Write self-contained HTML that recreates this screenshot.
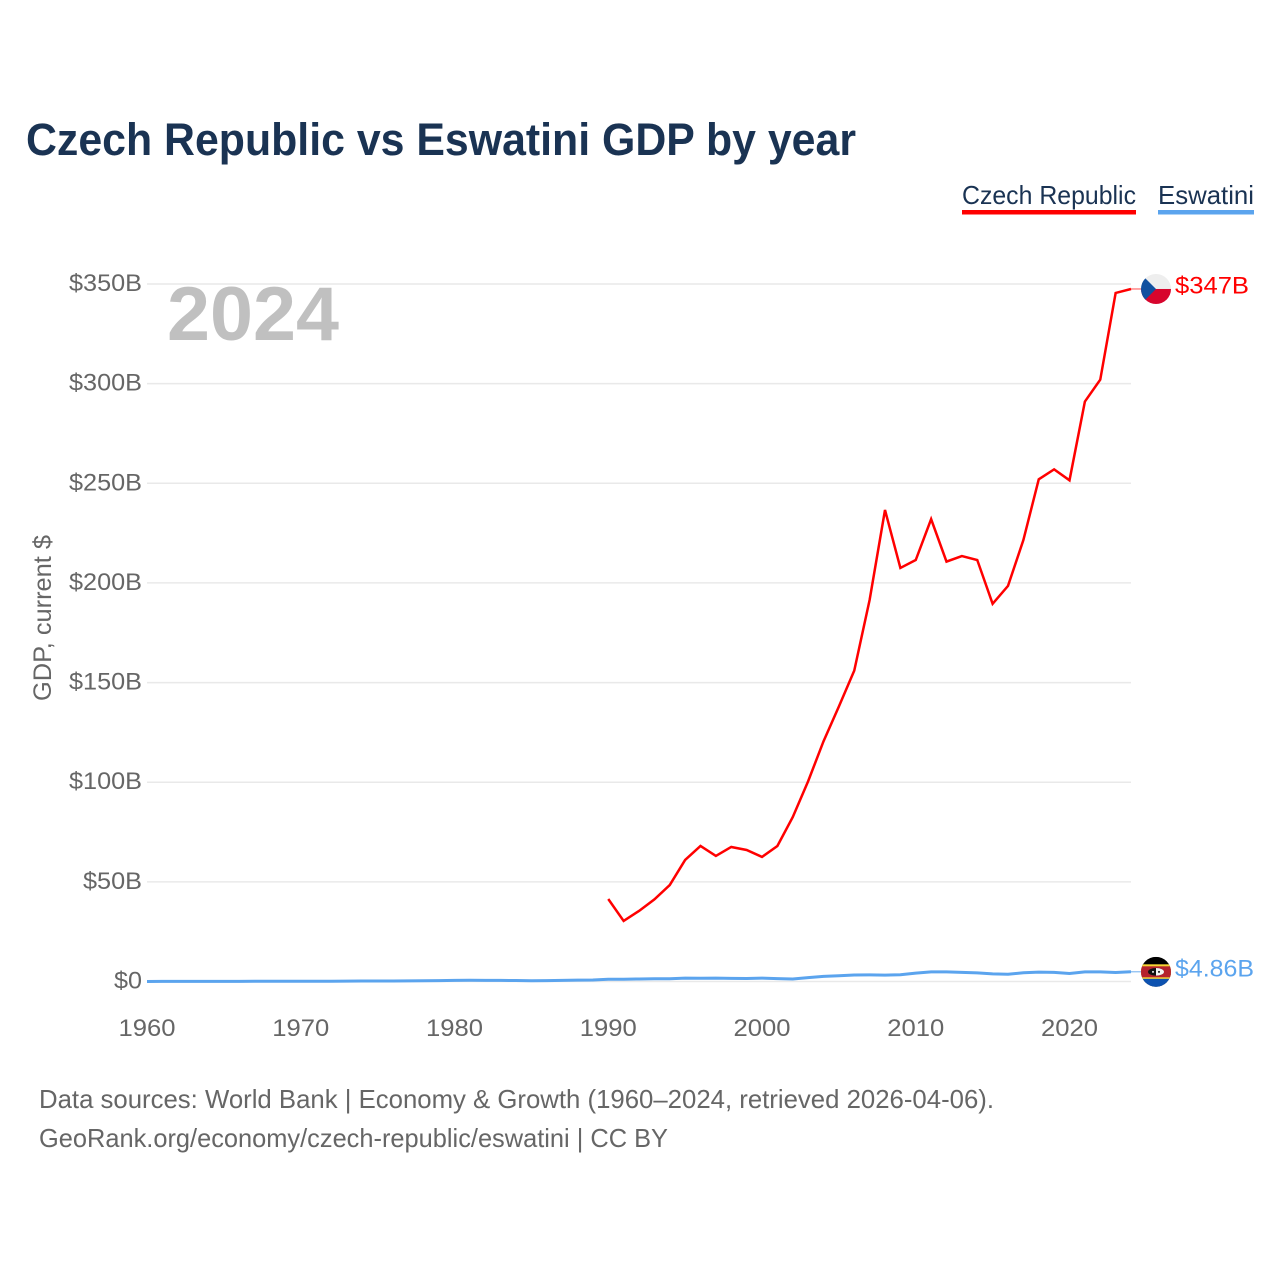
<!DOCTYPE html>
<html lang="en">
<head>
<meta charset="utf-8">
<title>Czech Republic vs Eswatini GDP by year</title>
<style>
html,body{margin:0;padding:0;background:#fff;width:1280px;height:1280px;overflow:hidden}
svg{display:block}
text{font-family:"Liberation Sans",sans-serif}
</style>
</head>
<body>
<svg id="chart" xmlns="http://www.w3.org/2000/svg" width="1280" height="1280" viewBox="0 0 1280 1280">
  <defs>
    <clipPath id="cz-clip"><circle cx="0" cy="0" r="15"/></clipPath>
    <clipPath id="sz-clip"><circle cx="0" cy="0" r="15"/></clipPath>
  </defs>
  <rect x="0" y="0" width="1280" height="1280" fill="#fff"/>
  <text x="26" y="155" font-size="45" font-weight="700" fill="#1a3353" textLength="830" lengthAdjust="spacingAndGlyphs">Czech Republic vs Eswatini GDP by year</text>

  <g>
    <text x="962" y="204" font-size="26" fill="#1a3353" textLength="174" lengthAdjust="spacingAndGlyphs">Czech Republic</text>
    <rect x="962" y="210" width="174" height="4.5" fill="#ff0000"/>
  </g>
  <g>
    <text x="1158" y="204" font-size="26" fill="#1a3353" textLength="96" lengthAdjust="spacingAndGlyphs">Eswatini</text>
    <rect x="1158" y="210" width="96" height="4.5" fill="#5ba4ee"/>
  </g>

  <g id="grid"></g>
  <g id="y-ticks"></g>
  <g id="x-ticks"></g>

  <text x="167" y="340" font-size="76" font-weight="700" fill="#c0c0c0" textLength="172" lengthAdjust="spacingAndGlyphs">2024</text>
  <text transform="translate(51,701) rotate(-90)" font-size="25" fill="#666" textLength="166" lengthAdjust="spacingAndGlyphs">GDP, current $</text>

  <g id="series"></g>

  <g id="flag-cz">
    <g clip-path="url(#cz-clip)">
      <rect x="-15" y="-15" width="30" height="15" fill="#eeeeee"/>
      <rect x="-15" y="0" width="30" height="15" fill="#d7052d"/>
      <path d="M-15,-15 L0,0 L-15,15 Z" fill="#11509f"/>
    </g>
  </g>
  <g id="flag-sz">
    <g clip-path="url(#sz-clip)">
      <rect x="-15" y="-15" width="30" height="30" fill="#000"/>
      <rect x="-15" y="-7.5" width="30" height="15" fill="#f6d433"/>
      <rect x="-15" y="-5.5" width="30" height="11" fill="#b5222d"/>
      <rect x="-15" y="7" width="30" height="8" fill="#0d52b0"/>
      <ellipse cx="0" cy="0" rx="8" ry="3.8" fill="#111"/>
      <path d="M0,-3.8 A8,3.8 0 0 1 0,3.8 Z" fill="#f4f4f4"/>
      <circle cx="-3" cy="0" r="1" fill="#eee"/>
      <circle cx="3" cy="0" r="1" fill="#111"/>
    </g>
  </g>
  <g id="end-labels"></g>

  <text x="39" y="1108" font-size="26" fill="#666" textLength="955" lengthAdjust="spacingAndGlyphs">Data sources: World Bank | Economy &amp; Growth (1960–2024, retrieved 2026-04-06).</text>
  <text x="39" y="1147" font-size="26" fill="#666" textLength="629" lengthAdjust="spacingAndGlyphs">GeoRank.org/economy/czech-republic/eswatini | CC BY</text>
</svg>
<script>
const yTickValues = [0, 50, 100, 150, 200, 250, 300, 350];
const yTickLabels = ["$0", "$50B", "$100B", "$150B", "$200B", "$250B", "$300B", "$350B"];
const yTickWidths = [28, 59, 73, 73, 73, 73, 73, 73];
const xTickYears = [1960, 1970, 1980, 1990, 2000, 2010, 2020];
const czechYears = [1990,1991,1992,1993,1994,1995,1996,1997,1998,1999,2000,2001,2002,2003,2004,2005,2006,2007,2008,2009,2010,2011,2012,2013,2014,2015,2016,2017,2018,2019,2020,2021,2022,2023,2024];
const czechGdp = [41.4,30.4,35.4,41.2,48.4,61,68,63,67.5,66,62.5,68,82.5,100.5,120.5,138,156,191.5,236.6,207.5,211.5,232,210.7,213.5,211.5,189.5,198.5,221.5,252,257,251.5,291,302,345.5,347.5];
const eswatiniYears = [1960,1961,1962,1963,1964,1965,1966,1967,1968,1969,1970,1971,1972,1973,1974,1975,1976,1977,1978,1979,1980,1981,1982,1983,1984,1985,1986,1987,1988,1989,1990,1991,1992,1993,1994,1995,1996,1997,1998,1999,2000,2001,2002,2003,2004,2005,2006,2007,2008,2009,2010,2011,2012,2013,2014,2015,2016,2017,2018,2019,2020,2021,2022,2023,2024];
const eswatiniGdp = [0.03,0.04,0.04,0.06,0.07,0.08,0.09,0.1,0.1,0.1,0.11,0.13,0.15,0.2,0.25,0.28,0.28,0.32,0.35,0.42,0.54,0.6,0.55,0.55,0.5,0.36,0.46,0.55,0.7,0.75,1.1,1.15,1.25,1.35,1.4,1.7,1.6,1.7,1.55,1.5,1.7,1.45,1.25,1.95,2.6,2.9,3.25,3.3,3.2,3.4,4.2,4.8,4.85,4.6,4.35,3.8,3.65,4.4,4.7,4.6,4.0,4.8,4.8,4.5,4.86];
const endLabels = ["$347B", "$4.86B"];

const SVG_NS = "http://www.w3.org/2000/svg";
function xScale(year) { return 147 + (year - 1960) * (984 / 64); }
function yScale(value) { return 981.5 - value * (697.5 / 350); }
function make(tag, attrs, text) {
  const el = document.createElementNS(SVG_NS, tag);
  for (const k in attrs) el.setAttribute(k, attrs[k]);
  if (text !== undefined) el.textContent = text;
  return el;
}
const gridG = document.getElementById("grid");
const yG = document.getElementById("y-ticks");
const xG = document.getElementById("x-ticks");
const seriesG = document.getElementById("series");
const labelsG = document.getElementById("end-labels");

yTickValues.forEach(function (v, i) {
  const line = make("line", { x1: 147, x2: 1131, y1: yScale(v), y2: yScale(v), stroke: "#e9e9e9", "stroke-width": 1.5 });
  
  
  gridG.appendChild(line);
  const label = make("text", { x: 142, y: yScale(v) + 7, "font-size": 24.5, fill: "#666", "text-anchor": "end", textLength: yTickWidths[i], lengthAdjust: "spacingAndGlyphs" }, yTickLabels[i]);
  
  
  yG.appendChild(label);
});

xTickYears.forEach(function (y) {
  const label = make("text", { x: xScale(y), y: 1036, "font-size": 24.5, fill: "#666", "text-anchor": "middle", textLength: 57, lengthAdjust: "spacingAndGlyphs" }, String(y));
  
  
  xG.appendChild(label);
});

function drawSeries(years, values, color, width) {
  const pts = years.map(function (y, i) { return xScale(y).toFixed(2) + "," + yScale(values[i]).toFixed(2); }).join(" ");
  return make("polyline", { points: pts, fill: "none", stroke: color, "stroke-width": width, "stroke-linejoin": "miter" });
}
const eswatiniLine = drawSeries(eswatiniYears, eswatiniGdp, "#5ba4ee", 3);


seriesG.appendChild(eswatiniLine);
const czechLine = drawSeries(czechYears, czechGdp, "#ff0000", 2.5);


seriesG.appendChild(czechLine);

const czLastY = yScale(czechGdp[czechGdp.length - 1]);
const szLastY = yScale(eswatiniGdp[eswatiniGdp.length - 1]);
const xEnd = xScale(czechYears[czechYears.length - 1]);

const czConn = make("line", { x1: xEnd, x2: 1141, y1: czLastY, y2: czLastY, stroke: "#ff0000", "stroke-width": 1, opacity: 0.7 });


seriesG.appendChild(czConn);
const szConn = make("line", { x1: xEnd, x2: 1141, y1: szLastY, y2: szLastY, stroke: "#5ba4ee", "stroke-width": 1, opacity: 0.9 });


seriesG.appendChild(szConn);

document.getElementById("flag-cz").setAttribute("transform", "translate(1156," + czLastY + ")");
document.getElementById("flag-sz").setAttribute("transform", "translate(1156," + szLastY + ")");

const czLabel = make("text", { x: 1175, y: czLastY + 4.5, "font-size": 24.5, fill: "#ff0000", textLength: 74, lengthAdjust: "spacingAndGlyphs" }, endLabels[0]);


labelsG.appendChild(czLabel);
const szLabel = make("text", { x: 1175, y: szLastY + 4.5, "font-size": 24.5, fill: "#5ba4ee", textLength: 79, lengthAdjust: "spacingAndGlyphs" }, endLabels[1]);


labelsG.appendChild(szLabel);
</script>
</body>
</html>
